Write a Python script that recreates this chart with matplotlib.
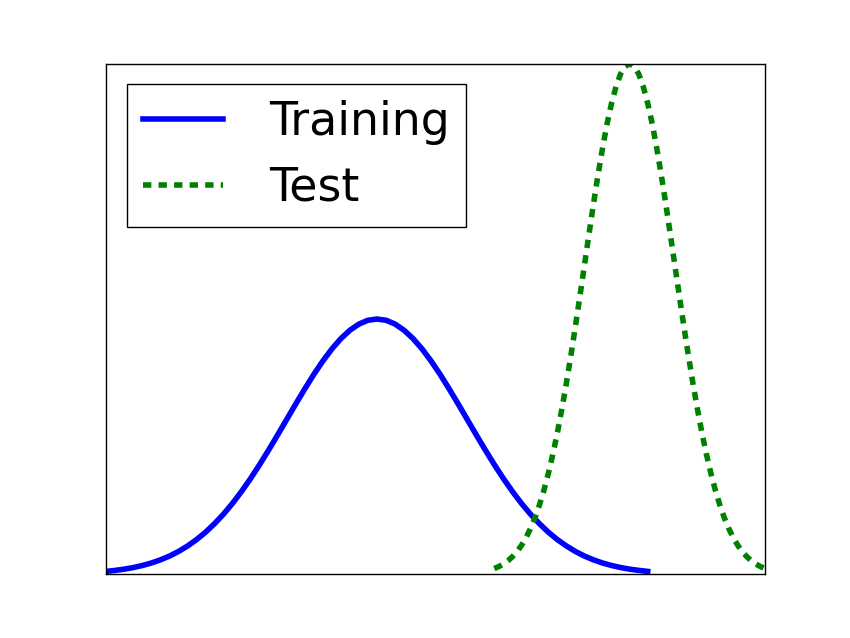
import matplotlib
matplotlib.use("Agg")
import matplotlib.pyplot as plt

# Values (density scale, no ticks shown)
train_x = [-3.0, -2.9, -2.8, -2.7, -2.6, -2.5, -2.4, -2.3, -2.2, -2.1,
           -2.0, -1.9, -1.8, -1.7, -1.6, -1.5, -1.4, -1.3, -1.2, -1.1,
           -1.0, -0.9, -0.8, -0.7, -0.6, -0.5, -0.4, -0.3, -0.2, -0.1,
           0.0, 0.1, 0.2, 0.3, 0.4, 0.5, 0.6, 0.7, 0.8, 0.9,
           1.0, 1.1, 1.2, 1.3, 1.4, 1.5, 1.6, 1.7, 1.8, 1.9,
           2.0, 2.1, 2.2, 2.3, 2.4, 2.5, 2.6, 2.7, 2.8, 2.9, 3.0]
train_y = [0.0044, 0.0060, 0.0079, 0.0104, 0.0136, 0.0175, 0.0224, 0.0283,
           0.0355, 0.0440, 0.0540, 0.0656, 0.0790, 0.0940, 0.1109, 0.1295,
           0.1497, 0.1714, 0.1942, 0.2179, 0.2420, 0.2661, 0.2897, 0.3123,
           0.3332, 0.3521, 0.3683, 0.3814, 0.3910, 0.3970, 0.3989,
           0.3970, 0.3910, 0.3814, 0.3683, 0.3521, 0.3332, 0.3123, 0.2897,
           0.2661, 0.2420, 0.2179, 0.1942, 0.1714, 0.1497, 0.1295, 0.1109,
           0.0940, 0.0790, 0.0656, 0.0540, 0.0440, 0.0355, 0.0283, 0.0224,
           0.0175, 0.0136, 0.0104, 0.0079, 0.0060, 0.0044]

test_x = [1.30, 1.35, 1.40, 1.45, 1.50, 1.55, 1.60, 1.65, 1.70, 1.75,
          1.80, 1.85, 1.90, 1.95, 2.00, 2.05, 2.10, 2.15, 2.20, 2.25,
          2.30, 2.35, 2.40, 2.45, 2.50, 2.55, 2.60, 2.65, 2.70, 2.75,
          2.80, 2.85, 2.90, 2.95, 3.00, 3.05, 3.10, 3.15, 3.20, 3.25,
          3.30, 3.35, 3.40, 3.45, 3.50, 3.55, 3.60, 3.65, 3.70, 3.75,
          3.80, 3.85, 3.90, 3.95, 4.00, 4.05, 4.10, 4.15, 4.20, 4.25, 4.30]
test_y = [0.0089, 0.0119, 0.0158, 0.0208, 0.0272, 0.0350, 0.0448, 0.0566,
          0.0710, 0.0879, 0.1080, 0.1312, 0.1579, 0.1880, 0.2218, 0.2590,
          0.2995, 0.3429, 0.3884, 0.4357, 0.4839, 0.5321, 0.5794, 0.6245,
          0.6664, 0.7041, 0.7365, 0.7627, 0.7821, 0.7939, 0.7979,
          0.7939, 0.7821, 0.7627, 0.7365, 0.7041, 0.6664, 0.6245, 0.5794,
          0.5321, 0.4839, 0.4357, 0.3884, 0.3429, 0.2995, 0.2590, 0.2218,
          0.1880, 0.1579, 0.1312, 0.1080, 0.0879, 0.0710, 0.0566, 0.0448,
          0.0350, 0.0272, 0.0208, 0.0158, 0.0119, 0.0089]

labels = ["Training", "Test"]

fig = plt.figure(figsize=(8.5, 6.38), dpi=100)
ax = fig.add_axes([0.125, 0.1, 0.775, 0.8])

ax.plot(train_x, train_y, color=(0, 0, 1), lw=4, label=labels[0])
ax.plot(test_x, test_y, color=(0, 0.5, 0), lw=4, dashes=(1.5, 1.3),
        label=labels[1])

ax.set_xlim(-3.0, 4.3)
ax.set_ylim(0, 0.7979)
ax.set_xticks([])
ax.set_yticks([])
for sp in ax.spines.values():
    sp.set_color("black")
    sp.set_linewidth(1.0)

leg = ax.legend(loc="upper left", fontsize=33, fancybox=False,
                edgecolor="black", framealpha=1, handlelength=1.75,
                handletextpad=1.0, borderaxespad=0.45, labelspacing=0.44,
                borderpad=0.35)
leg.get_frame().set_linewidth(1.0)

fig.savefig("out.png", dpi=100)
